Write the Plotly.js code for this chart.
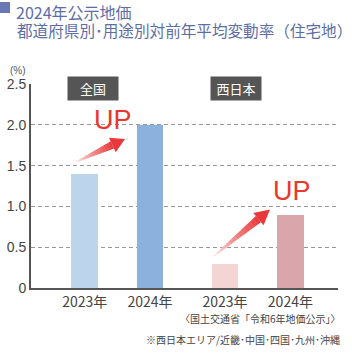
<!DOCTYPE html>
<html><head><meta charset="utf-8">
<script src="https://cdn.plot.ly/plotly-3.0.1.min.js"></script>
<style>html,body{margin:0;padding:0;background:#fff}#c{width:352px;height:355px}</style>
</head><body><div id="c"></div>
<script>
const groups = ["全国", "西日本"];
const years = ["2023年", "2024年"];
const zenkoku = [1.4, 2.0];
const nishinihon = [0.3, 0.9];
const yTickVals = [0, 0.5, 1.0, 1.5, 2.0, 2.5];
const yTickText = ["0", "0.5", "1.0", "1.5", "2.0", "2.5"];
const colorsZ = ["#bdd4ed", "#8db1dd"];
const colorsN = ["#f3d6d3", "#d9a6ab"];

const pos = [0, 1, 2.15, 3.15];
const W = 0.405;
const PL = 31, PR = 338, PT = 84, PB = 288;
const xr = [-0.822, 3.879];
const pxX = p => xr[0] + (p - PL) / (PR - PL) * (xr[1] - xr[0]);
const pxY = p => (PB - p) / (PB - PT) * 2.5;
const paperX = p => (p - PL) / (PR - PL);
const paperY = p => (PB - p) / (PB - PT);

const traces = [
  {type: "bar", x: pos.slice(0, 2), y: zenkoku, width: W, marker: {color: colorsZ}, hoverinfo: "skip"},
  {type: "bar", x: pos.slice(2, 4), y: nishinihon, width: W, marker: {color: colorsN}, hoverinfo: "skip"}
];

const jp = "'Noto Sans CJK JP', 'Noto Sans', sans-serif";
const lat = "'Liberation Sans', Arial, sans-serif";
const red = "#e8382e";

const annotations = [
  {xref: "paper", yref: "paper", x: paperX(14), y: paperY(11.8), xanchor: "left", yanchor: "middle", showarrow: false,
   text: "2024年公示地価", font: {family: jp, size: 16, color: "#5d6ea7"}},
  {xref: "paper", yref: "paper", x: paperX(15), y: paperY(30), xanchor: "left", yanchor: "middle", showarrow: false,
   text: "都道府県別･用途別対前年平均変動率（住宅地）", font: {family: jp, size: 15.6, color: "#5d6ea7"}},
  {xref: "paper", yref: "paper", x: paperX(18), y: paperY(70), xanchor: "center", yanchor: "middle", showarrow: false,
   text: "(%)", font: {family: lat, size: 10, color: "#555"}},
  {xref: "x", yref: "y", x: pxX(93), y: pxY(88), xanchor: "center", yanchor: "middle", showarrow: false,
   text: groups[0], bgcolor: "#555555", width: 46, height: 19, borderpad: 2, font: {family: jp, size: 13, color: "#fff"}},
  {xref: "x", yref: "y", x: pxX(235.7), y: pxY(88.5), xanchor: "center", yanchor: "middle", showarrow: false,
   text: groups[1], bgcolor: "#555555", width: 46, height: 19, borderpad: 2, font: {family: jp, size: 13, color: "#fff"}},
  {xref: "x", yref: "y", x: pxX(113), y: pxY(120), xanchor: "center", yanchor: "middle", showarrow: false,
   text: "UP", font: {family: lat, size: 27, color: red}},
  {xref: "x", yref: "y", x: pxX(292), y: pxY(191), xanchor: "center", yanchor: "middle", showarrow: false,
   text: "UP", font: {family: lat, size: 27, color: red}},
  {xref: "paper", yref: "paper", x: paperX(343), y: paperY(318), xanchor: "right", yanchor: "middle", showarrow: false,
   text: "〈国土交通省「令和6年地価公示」〉", font: {family: jp, size: 10, color: "#444"}},
  {xref: "paper", yref: "paper", x: paperX(342), y: paperY(339), xanchor: "right", yanchor: "middle", showarrow: false,
   text: "※西日本エリア/近畿･中国･四国･九州･沖縄", font: {family: jp, size: 10, color: "#444"}}
];

const shapes = [
  {type: "rect", xref: "paper", yref: "paper", x0: paperX(0), x1: paperX(10), y0: paperY(13), y1: paperY(2),
   fillcolor: "#6978b2", line: {width: 0}}
];

// decorative gradient arrows (pixel geometry -> paper coords)
function hexMix(a, b, t) {
  const pa = [1, 3, 5].map(i => parseInt(a.substr(i, 2), 16));
  const pb = [1, 3, 5].map(i => parseInt(b.substr(i, 2), 16));
  return "rgb(" + pa.map((v, i) => Math.round(v + (pb[i] - v) * t)).join(",") + ")";
}
function addArrow(tail, tip, headLen, headHalf, shaftHalf) {
  const dx = tip[0] - tail[0], dy = tip[1] - tail[1];
  const L = Math.hypot(dx, dy);
  const u = [dx / L, dy / L], n = [-u[1], u[0]];
  const B = [tip[0] - u[0] * headLen, tip[1] - u[1] * headLen];
  const P = (pt) => paperX(pt[0]).toFixed(5) + "," + paperY(pt[1]).toFixed(5);
  const N = 14;
  for (let i = 0; i < N; i++) {
    const t0 = i / N, t1 = (i + 1.08) / N;
    const c0 = [tail[0] + (B[0] - tail[0]) * t0, tail[1] + (B[1] - tail[1]) * t0];
    const c1 = [tail[0] + (B[0] - tail[0]) * Math.min(t1, 1), tail[1] + (B[1] - tail[1]) * Math.min(t1, 1)];
    const w0 = shaftHalf * (0.15 + 0.85 * t0), w1 = shaftHalf * (0.15 + 0.85 * Math.min(t1, 1));
    const pts = [
      [c0[0] + n[0] * w0, c0[1] + n[1] * w0], [c1[0] + n[0] * w1, c1[1] + n[1] * w1],
      [c1[0] - n[0] * w1, c1[1] - n[1] * w1], [c0[0] - n[0] * w0, c0[1] - n[1] * w0]
    ];
    shapes.push({type: "path", xref: "paper", yref: "paper", layer: "above",
      path: "M" + pts.map(P).join("L") + "Z",
      fillcolor: hexMix("#fdeeee", "#e8383a", Math.pow((i + 0.5) / N, 0.8)), line: {width: 0}});
  }
  const h = [tip, [B[0] + n[0] * headHalf, B[1] + n[1] * headHalf], [B[0] - n[0] * headHalf, B[1] - n[1] * headHalf]];
  shapes.push({type: "path", xref: "paper", yref: "paper", layer: "above",
    path: "M" + h.map(P).join("L") + "Z", fillcolor: "#e8383a", line: {width: 0}});
}
addArrow([76, 162], [125, 139], 14, 8, 4);
addArrow([214, 256], [270, 209.5], 15, 8, 4);

const layout = {
  width: 352, height: 355,
  margin: {l: PL, r: 352 - PR, t: PT, b: 355 - PB, pad: 0},
  paper_bgcolor: "#fff", plot_bgcolor: "#fff",
  showlegend: false,
  bargap: 0,
  xaxis: {range: xr, tickvals: pos, ticktext: years.concat(years), showgrid: false, zeroline: false,
    showline: true, linecolor: "#555", linewidth: 2, ticks: "", tickfont: {family: jp, size: 14, color: "#444"}, fixedrange: true},
  yaxis: {range: [0, 2.5], tickvals: yTickVals, ticktext: yTickText, showgrid: true, gridcolor: "#999",
    griddash: "4px,3px", gridwidth: 1, zeroline: false, showline: true, linecolor: "#555", linewidth: 2,
    ticks: "", ticklen: 0, tickfont: {family: lat, size: 14, color: "#444"}, fixedrange: true},
  annotations: annotations,
  shapes: shapes
};

Plotly.newPlot("c", traces, layout, {displayModeBar: false, staticPlot: true});
</script>
</body></html>
